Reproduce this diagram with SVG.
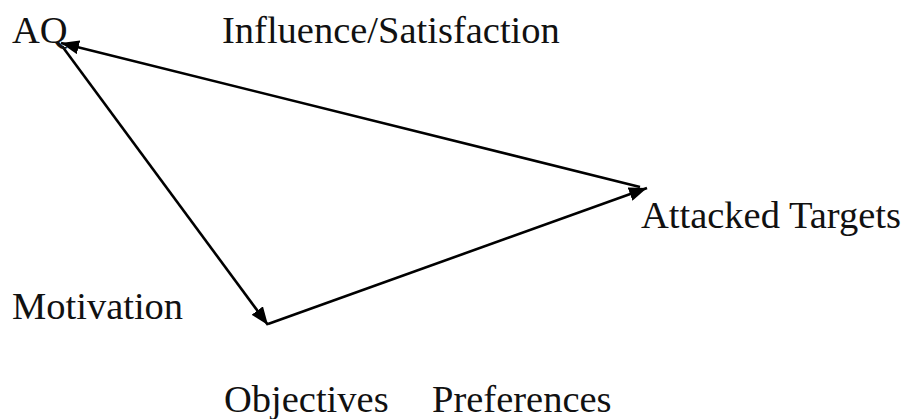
<svg xmlns="http://www.w3.org/2000/svg" width="907" height="419" viewBox="0 0 907 419">
<defs>
<style>
.lbl{font-family:"Liberation Serif","Times New Roman",serif;font-size:38.5px;fill:#111}
.edge{stroke:#000;stroke-width:2.6;fill:none}
</style>
<marker id="ah" viewBox="0 0 18 14" refX="18" refY="7" markerWidth="18" markerHeight="14" markerUnits="userSpaceOnUse" orient="auto">
<path d="M0,0 L18,7 L0,14 Z" fill="#000"/>
</marker>
</defs>
<rect width="907" height="419" fill="#fff"/>
<g id="connectors">
<line class="edge" x1="62" y1="46" x2="268" y2="325" marker-end="url(#ah)"/>
<line class="edge" x1="268" y1="324" x2="647" y2="188" marker-end="url(#ah)"/>
<line class="edge" x1="640" y1="187" x2="61" y2="43" marker-end="url(#ah)"/>
</g>
<g id="AQ"><text class="lbl" x="12" y="43">AQ</text></g>
<g id="influence"><text class="lbl" x="222" y="43">Influence/Satisfaction</text></g>
<g id="targets"><text class="lbl" x="641" y="228">Attacked Targets</text></g>
<g id="motivation"><text class="lbl" x="12" y="319">Motivation</text></g>
<g id="objectives"><text class="lbl" x="224" y="412">Objectives</text></g>
<g id="preferences"><text class="lbl" x="432" y="412">Preferences</text></g>
</svg>
